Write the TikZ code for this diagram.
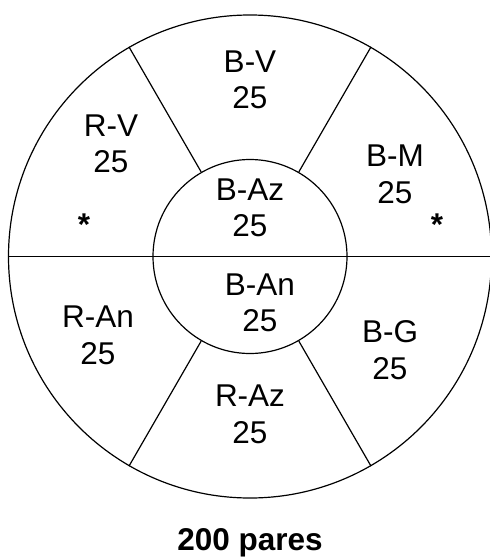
\documentclass[tikz,border=0pt]{standalone}
\usepackage{fontspec}
\setmainfont{Liberation Sans}
\begin{document}
\begin{tikzpicture}[x=1pt,y=-1pt,
  lbl/.style={anchor=base,inner sep=0pt,font=\fontsize{31.5}{36}\selectfont},
  ttl/.style={anchor=base,inner sep=0pt,font=\fontsize{31.5}{36}\selectfont\bfseries},
  ln/.style={line width=1.2pt,black}]
\useasboundingbox (0,0) rectangle (490,557);
\coordinate (c) at (250,256.5);
% outer and inner circles
\node[ln,draw,circle,minimum size=483pt,inner sep=0pt] (outer) at (c) {};
\node[ln,draw,circle,minimum size=194pt,inner sep=0pt] (inner) at (c) {};
% dividing lines
\draw[ln] (outer.west) -- (outer.east);
\draw[ln] (inner.60) -- (outer.60);
\draw[ln] (inner.120) -- (outer.120);
\draw[ln] (inner.240) -- (outer.240);
\draw[ln] (inner.300) -- (outer.300);
% labels
\node[lbl] (bv1) at (250,72) {B-V};
\node[lbl] (bv2) at (250,108.3) {25};
\node[lbl] (rv1) at (111,136) {R-V};
\node[lbl] (rv2) at (111,172.7) {25};
\node[lbl] (bm1) at (395,166.7) {B-M};
\node[lbl] (bm2) at (395,203.3) {25};
\node[lbl] (baz1) at (250,200) {B-Az};
\node[lbl] (baz2) at (250,236.7) {25};
\node[ttl] (s1) at (84,235.5) {*};
\node[ttl] (s2) at (437,235.5) {*};
\node[lbl] (ban1) at (260,295) {B-An};
\node[lbl] (ban2) at (260,331.7) {25};
\node[lbl] (ran1) at (98,327.3) {R-An};
\node[lbl] (ran2) at (98,364) {25};
\node[lbl] (bg1) at (390,342.7) {B-G};
\node[lbl] (bg2) at (390,379.3) {25};
\node[lbl] (raz1) at (250,406.7) {R-Az};
\node[lbl] (raz2) at (250,443.3) {25};
\node[ttl] (total) at (250,550.5) {200 pares};
\end{tikzpicture}
\end{document}
